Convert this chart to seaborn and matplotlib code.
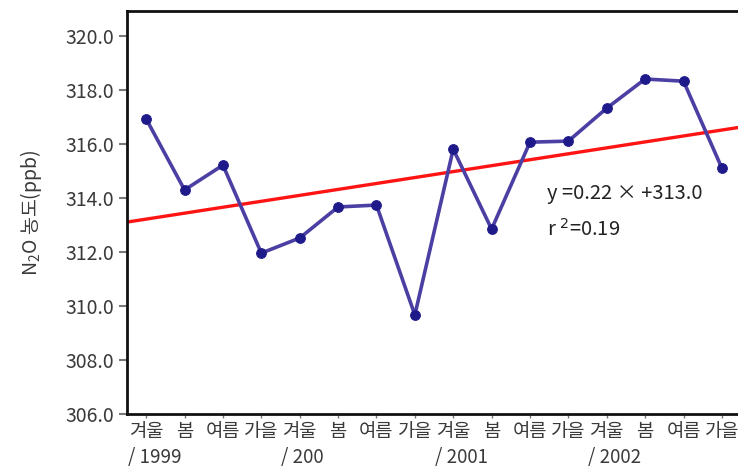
import matplotlib
matplotlib.use("Agg")
import matplotlib.pyplot as plt
import matplotlib.transforms as mtransforms
import numpy as np
import pandas as pd
import seaborn as sns

# Seasonal N2O concentration (ppb), winter 1999 - autumn 2002
seasons = ["겨울", "봄", "여름", "가을"] * 4
year_labels = ["/ 1999", "/ 200", "/ 2001", "/ 2002"]
n2o_ppb = [316.93, 314.30, 315.22, 311.96,
           312.52, 313.67, 313.74, 309.67,
           315.81, 312.85, 316.07, 316.11,
           317.33, 318.41, 318.33, 315.11]
trend_slope = 0.22
trend_intercept = 313.0
r_squared = 0.19

sns.set_theme(style="white")
plt.rcParams["font.family"] = ["Noto Sans CJK KR", "DejaVu Sans"]

df = pd.DataFrame({"idx": np.arange(len(n2o_ppb)), "n2o": n2o_ppb})

fig = plt.figure(figsize=(7.38, 4.72), dpi=100)
ax = fig.add_axes([127 / 738, 1 - 414 / 472, 1 - 127 / 738, (414 - 11) / 472])

x_lo, x_hi = -0.5, 15.42
# Linear trend, x counted from 1 for the first season
xt = np.array([x_lo, x_hi])
ax.plot(xt, trend_slope * (xt + 1) + trend_intercept, color="#ff1414", lw=2.4, zorder=2)

sns.lineplot(data=df, x="idx", y="n2o", ax=ax, color="#4b3fa3", lw=2.6,
             marker="o", markersize=7, markerfacecolor="#1f1a8a",
             markeredgecolor="#1f1a8a", zorder=3)

txt = "#3a3a3a"
ax.set_xlim(x_lo, x_hi)
ax.set_ylim(306.0, 320.93)
ax.set_yticks(np.arange(306, 321, 2))
ax.set_yticklabels([f"{v:.1f}" for v in np.arange(306, 321, 2)], fontsize=14,
                   color=txt)
ax.set_xticks(df["idx"])
ax.set_xticklabels(seasons, fontsize=13.5, color=txt)
ax.tick_params(axis="y", direction="out", length=6, width=1.5, color="#777777", pad=3,
               left=True)
ax.tick_params(axis="x", direction="out", length=3, width=1, color="#777777", pad=2,
               bottom=True)

ax.set_xlabel("")
ax.set_ylabel("N$_{\\mathregular{2}}$O 농도(ppb)", fontsize=14, color=txt, labelpad=16)

for side in ["left", "bottom", "top"]:
    ax.spines[side].set_color("#111111")
    ax.spines[side].set_linewidth(2)
ax.spines["right"].set_visible(False)

# Year markers under the winter ticks
trans = mtransforms.blended_transform_factory(ax.transData, ax.transAxes)
for i, lab in enumerate(year_labels):
    ax.text(i * 4 - 0.48, -0.083, lab, transform=trans, ha="left", va="top",
            fontsize=13.5, color=txt)

ax.text(10.45, 313.95, f"y =0.22 × +313.0", fontsize=14.5, color="#222222")
ax.text(10.45, 312.6, f"r $^2$=0.19", fontsize=14.5, color="#222222")

fig.savefig("out.png", dpi=100)
